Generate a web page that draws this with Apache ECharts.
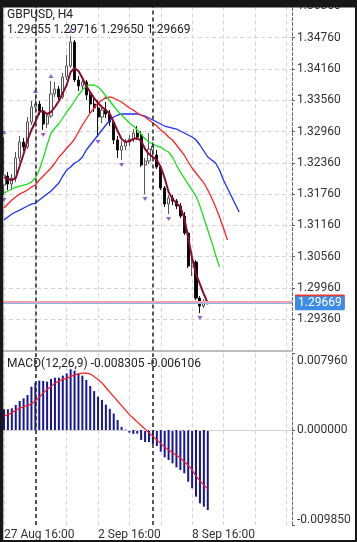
<!DOCTYPE html>
<html><head><meta charset="utf-8">
<script src="https://cdn.jsdelivr.net/npm/echarts@6/dist/echarts.min.js"></script>
<style>html,body{margin:0;padding:0;background:#fff}#c{width:357px;height:542px}</style>
</head><body><div id="c"></div>
<script>
const symbolName = 'GBPUSD, H4';
// candles: [open, close, low, high]
const candles = [
[1.31935,1.32127,1.31743,1.32855],[1.32107,1.31954,1.31839,1.32184],[1.31954,1.32069,1.31839,1.32146],
[1.32069,1.32453,1.31992,1.32568],[1.32453,1.32759,1.32376,1.32875],[1.32759,1.32664,1.32587,1.32836],
[1.32664,1.33143,1.32625,1.33239],[1.33143,1.33431,1.33086,1.33546],[1.33431,1.33488,1.33354,1.33642],
[1.33488,1.33354,1.33277,1.33546],[1.33354,1.33105,1.32990,1.33431],[1.33105,1.33258,1.33028,1.33316],
[1.33258,1.33680,1.33220,1.33929],[1.33680,1.33776,1.33623,1.33910],[1.33776,1.33623,1.33565,1.33834],
[1.33623,1.34006,1.33584,1.34083],[1.34006,1.34217,1.33949,1.34428],[1.34217,1.34677,1.34179,1.34793],
[1.34677,1.33949,1.33910,1.34716],[1.33949,1.33834,1.33738,1.34025],[1.33834,1.33910,1.33757,1.33987],
[1.33910,1.33661,1.33565,1.33949],[1.33661,1.33488,1.33316,1.33718],[1.33488,1.33412,1.33335,1.33623],
[1.33412,1.33239,1.32855,1.33565],[1.33239,1.33373,1.33124,1.33450],[1.33373,1.33297,1.33220,1.33527],
[1.33297,1.33143,1.33066,1.33373],[1.33143,1.32798,1.32721,1.33181],[1.32798,1.32606,1.32453,1.32875],
[1.32606,1.32683,1.32414,1.32779],[1.32683,1.32759,1.32606,1.32817],[1.32759,1.32817,1.32683,1.32894],
[1.32817,1.32932,1.32759,1.33009],[1.32932,1.32855,1.32798,1.33066],[1.32894,1.32318,1.32280,1.32970],
[1.32318,1.32395,1.31762,1.32453],[1.32395,1.32625,1.32338,1.32932],[1.32606,1.32683,1.32453,1.32759],
[1.32510,1.32280,1.32242,1.32606],[1.32280,1.31877,1.31839,1.32318],[1.31877,1.31570,1.31513,1.31916],
[1.31570,1.31685,1.31379,1.31743],[1.31685,1.31628,1.31551,1.31743],[1.31628,1.31532,1.31474,1.31666],
[1.31532,1.31340,1.31302,1.31590],[1.31340,1.31014,1.30976,1.31417],[1.31014,1.30381,1.30343,1.31072],
[1.30381,1.30458,1.30189,1.30573],[1.30458,1.29767,1.29729,1.30496],[1.29767,1.29614,1.29480,1.29806],
[1.29614,1.29691,1.29576,1.29748],[1.29655,1.29669,1.29650,1.29716]
];
const fastMA = [1.32088,1.32050,1.32031,1.32069,1.32299,1.32529,1.32798,1.32990,1.33143,1.33335,
1.33354,1.33297,1.33335,1.33431,1.33546,1.33699,1.33853,1.34102,1.34179,1.34121,
1.33987,1.33834,1.33718,1.33603,1.33507,1.33431,1.33373,1.33297,1.33143,1.32970,
1.32817,1.32759,1.32779,1.32817,1.32836,1.32779,1.32625,1.32529,1.32472,1.32414,
1.32280,1.32069,1.31800,1.31666,1.31590,1.31513,1.31302,1.30918,1.30535,1.30228,
1.30036,1.29844,1.29671];
const lips = [1.31781,1.31820,1.31858,1.31896,1.31916,1.31935,1.31954,1.31992,1.32069,1.32222,
1.32453,1.32702,1.32932,1.33028,1.33105,1.33220,1.33335,1.33431,1.33546,1.33661,
1.33757,1.33834,1.33853,1.33853,1.33814,1.33738,1.33642,1.33546,1.33450,1.33354,
1.33277,1.33201,1.33124,1.33066,1.32990,1.32913,1.32817,1.32759,1.32721,1.32683,
1.32664,1.32606,1.32568,1.32472,1.32318,1.32184,1.32069,1.31954,1.31839,1.31724,
1.31532,1.31302,1.31072,1.30841,1.30592,1.30362];
const teeth = [1.31494,1.31570,1.31647,1.31705,1.31762,1.31800,1.31839,1.31896,1.31935,1.32031,
1.32107,1.32184,1.32261,1.32357,1.32472,1.32549,1.32644,1.32721,1.32817,1.32951,
1.33086,1.33201,1.33316,1.33412,1.33507,1.33565,1.33603,1.33623,1.33603,1.33565,
1.33527,1.33469,1.33412,1.33373,1.33316,1.33277,1.33239,1.33181,1.33124,1.33066,
1.32990,1.32932,1.32855,1.32798,1.32702,1.32606,1.32510,1.32376,1.32261,1.32165,
1.32069,1.31973,1.31839,1.31685,1.31513,1.31321,1.31110,1.30880];
const jaw = [1.31263,1.31321,1.31379,1.31417,1.31455,1.31494,1.31532,1.31570,1.31590,1.31647,
1.31705,1.31762,1.31820,1.31896,1.31973,1.32107,1.32222,1.32280,1.32357,1.32395,
1.32472,1.32606,1.32702,1.32798,1.32894,1.32990,1.33086,1.33181,1.33239,1.33277,
1.33297,1.33297,1.33297,1.33297,1.33297,1.33277,1.33258,1.33220,1.33181,1.33143,
1.33105,1.33066,1.33047,1.33028,1.33009,1.32970,1.32932,1.32894,1.32855,1.32798,
1.32702,1.32587,1.32472,1.32414,1.32357,1.32222,1.32031,1.31877,1.31724,1.31570,1.31417];
const macdHist = [0.00215,0.00215,0.00225,0.00260,0.00301,0.00328,0.00363,0.00449,0.00492,0.00512,
0.00509,0.00502,0.00529,0.00543,0.00543,0.00564,0.00588,0.00630,0.00616,0.00588,
0.00564,0.00519,0.00457,0.00404,0.00346,0.00312,0.00263,0.00220,0.00171,0.00104,
0.00033,0.00004,-0.00028,-0.00041,-0.00038,-0.00104,-0.00125,-0.00125,-0.00145,-0.00166,
-0.00225,-0.00283,-0.00312,-0.00346,-0.00388,-0.00415,-0.00449,-0.00537,-0.00605,-0.00692,
-0.00761,-0.00796,-0.008305];
const macdSignal = [0.00141,0.00160,0.00178,0.00206,0.00225,0.00244,0.00253,0.00272,0.00300,0.00338,
0.00385,0.00422,0.00450,0.00488,0.00507,0.00525,0.00535,0.00554,0.00572,0.00582,
0.00591,0.00591,0.00582,0.00554,0.00525,0.00488,0.00441,0.00394,0.00347,0.00300,
0.00253,0.00206,0.00160,0.00122,0.00084,0.00047,0.00009,-0.00028,-0.00066,-0.00103,
-0.00141,-0.00178,-0.00206,-0.00235,-0.00263,-0.00291,-0.00328,-0.00366,-0.00413,-0.00479,
-0.00525,-0.00572,-0.006106];
const upFractals = [0, 8, 12, 17, 26];
const downFractals = [0, 10, 24, 30, 36, 42, 50];
const askPrice = 1.29700;
const bidPrice = 1.29669;
const priceTicks = [1.28760,1.29360,1.29960,1.30560,1.31160,1.31760,1.32360,1.32960,1.33560,1.34160,1.34760,1.35360];
const macdTicks = [-0.00985, 0, 0.00796];
const xTickLabels = ['27 Aug 16:00', '2 Sep 16:00', '8 Sep 16:00'];
const separators = ['31 Aug 00:00', '7 Sep 00:00'];
const barCount = 74;

const MON = ['Jan','Feb','Mar','Apr','May','Jun','Jul','Aug','Sep','Oct','Nov','Dec'];
const categories = [];
let t = Date.UTC(2020, 7, 27, 16);
while (categories.length < barCount) {
  const d = new Date(t);
  const wd = d.getUTCDay();
  if (wd !== 0 && wd !== 6) categories.push(d.getUTCDate() + ' ' + MON[d.getUTCMonth()] + ' ' + String(d.getUTCHours()).padStart(2, '0') + ':00');
  t += 4 * 3600 * 1000;
}

const last = candles[candles.length - 1];
const ohlcText = [last[0], last[3], last[2], last[1]].map(v => v.toFixed(5)).join(' ');
const macdText = 'MACD(12,26,9) ' + macdHist[macdHist.length - 1].toFixed(6) + ' ' + macdSignal[macdSignal.length - 1].toFixed(6);

const FONT = 'Roboto';
const gridLine = {color: '#d4d4d4', type: [4, 3], width: 1};
const sepLine = {color: '#222', type: [4, 3], width: 1.5};

function xAxis(gi, showLabels) {
  return {
    type: 'category', gridIndex: gi, data: categories, boundaryGap: true,
    axisTick: {show: false},
    axisLine: {show: true, lineStyle: gi === 0 ? {color: '#bdbdbd', width: 2} : {color: '#d0d0d0', width: 1}},
    splitLine: {show: true, alignWithLabel: true, interval: (i) => i % 8 === 0, lineStyle: gridLine},
    axisLabel: showLabels ? {show: true, interval: (i, v) => xTickLabels.includes(v), align: 'left', margin: 4,
      color: '#333', fontSize: 12, fontFamily: FONT} : {show: false}
  };
}
const yLine = {show: true, lineStyle: {color: '#666', type: [3, 2], width: 1}};
const step = Math.round((priceTicks[1] - priceTicks[0]) * 1e5) / 1e5;

const macdLabelRich = {
  t: {padding: [16, 0, 0, 0], fontSize: 12, color: '#333', fontFamily: FONT},
  b: {padding: [0, 0, 10, 0], fontSize: 12, color: '#333', fontFamily: FONT}
};
const titleStyle = {fontSize: 12, fontWeight: 'normal', color: '#222', fontFamily: FONT};

const option = {
  animation: false,
  backgroundColor: '#fff',
  textStyle: {fontFamily: FONT},
  title: [
    {text: symbolName, left: 7, top: 9, padding: 0, textStyle: titleStyle},
    {text: ohlcText, left: 7, top: 24, padding: 0, textStyle: titleStyle},
    {text: macdText, left: 7, top: 358, padding: 0, textStyle: titleStyle}
  ],
  grid: [
    {left: 2.04, top: 6.4, width: 290, height: 344.2},
    {left: 2.04, top: 353.3, width: 290, height: 171.6}
  ],
  xAxis: [xAxis(0, false), xAxis(1, true)],
  yAxis: [
    {type: 'value', gridIndex: 0, position: 'right', min: priceTicks[0], max: priceTicks[priceTicks.length - 1], interval: step,
      axisLine: yLine, axisTick: {show: true, length: 3, lineStyle: {color: '#666'}},
      axisLabel: {showMinLabel: false, formatter: v => v.toFixed(5), margin: 5, color: '#333', fontSize: 12, fontFamily: FONT},
      splitLine: {show: true, lineStyle: gridLine}},
    {type: 'value', gridIndex: 1, position: 'right', min: macdTicks[0], max: macdTicks[macdTicks.length - 1],
      axisLine: yLine, splitLine: {show: false},
      axisTick: {show: true, length: 3, customValues: macdTicks, lineStyle: {color: '#666'}},
      axisLabel: {customValues: macdTicks, margin: 5, color: '#333', fontSize: 12, fontFamily: FONT, rich: macdLabelRich,
        formatter: v => {
          const s = v.toFixed(6);
          if (v >= macdTicks[macdTicks.length - 1] - 1e-9) return '{t|' + s + '}';
          if (v <= macdTicks[0] + 1e-9) return '{b|' + s + '}';
          return s;
        }}}
  ],
  series: [
    {type: 'candlestick', xAxisIndex: 0, yAxisIndex: 0, data: candles, barWidth: 2.6,
      itemStyle: {color: '#ffffff', color0: '#000000', borderColor: '#555', borderColor0: '#111', borderWidth: 1},
      markLine: {symbol: ['none', 'none'], silent: true, animation: false, label: {show: false},
        data: separators.map(s => ({xAxis: s, lineStyle: sepLine}))}},
    {type: 'line', name: 'jaw', xAxisIndex: 0, yAxisIndex: 0, data: jaw, showSymbol: false, lineStyle: {color: '#1f2fff', width: 1.3}},
    {type: 'line', name: 'teeth', xAxisIndex: 0, yAxisIndex: 0, data: teeth, showSymbol: false, lineStyle: {color: '#ff2222', width: 1.3}},
    {type: 'line', name: 'lips', xAxisIndex: 0, yAxisIndex: 0, data: lips, showSymbol: false, lineStyle: {color: '#1ede1e', width: 1.3}},
    {type: 'line', name: 'fast', xAxisIndex: 0, yAxisIndex: 0, data: fastMA, showSymbol: false, lineStyle: {color: '#8c0c2e', width: 2},
      markLine: {symbol: ['none', 'none'], silent: true, animation: false, precision: 6,
        data: [
          {yAxis: askPrice, lineStyle: {color: '#f3a3a3', width: 2, type: 'solid'},
            label: {show: true, position: 'end', distance: 3, formatter: askPrice.toFixed(5), backgroundColor: '#e53935',
              color: '#e53935', padding: [1, 3], fontSize: 12, fontFamily: FONT}},
          {yAxis: bidPrice, lineStyle: {color: '#86b8f4', width: 1, type: 'solid'},
            label: {show: true, position: 'end', distance: 3, formatter: bidPrice.toFixed(5), backgroundColor: '#3d8de8',
              color: '#fff', padding: [1, 3], fontSize: 12, fontFamily: FONT}}
        ]}},
    {type: 'scatter', xAxisIndex: 0, yAxisIndex: 0, data: upFractals.map(i => [i, candles[i][3]]),
      symbol: 'triangle', symbolSize: [5, 4], symbolOffset: [0, -5], itemStyle: {color: '#7b39c9'}},
    {type: 'scatter', xAxisIndex: 0, yAxisIndex: 0, data: downFractals.map(i => [i, candles[i][2]]),
      symbol: 'triangle', symbolSize: [5, 4], symbolRotate: 180, symbolOffset: [0, 5], itemStyle: {color: '#7b39c9'}},
    {type: 'bar', xAxisIndex: 1, yAxisIndex: 1, data: macdHist, barWidth: 2, itemStyle: {color: '#16169c'},
      markLine: {symbol: ['none', 'none'], silent: true, animation: false, label: {show: false}, precision: 6,
        data: [{yAxis: 0, lineStyle: gridLine}, ...separators.map(s => ({xAxis: s, lineStyle: sepLine}))]}},
    {type: 'line', xAxisIndex: 1, yAxisIndex: 1, data: macdSignal, showSymbol: false, lineStyle: {color: '#ff1a1a', width: 1.2}}
  ],
  graphic: [
    {type: 'rect', z: 100, shape: {x: 0, y: 0, width: 357, height: 7.5}, style: {fill: '#171717'}},
    {type: 'rect', z: 100, shape: {x: 0, y: 0, width: 3.3, height: 542}, style: {fill: '#171717'}},
    {type: 'rect', z: 100, shape: {x: 355, y: 0, width: 2, height: 542}, style: {fill: '#171717'}},
    {type: 'rect', z: 100, shape: {x: 0, y: 540, width: 357, height: 2}, style: {fill: '#171717'}}
  ]
};
const chart = echarts.init(document.getElementById('c'), null, {renderer: 'canvas'});
chart.setOption(option);
</script></body></html>
